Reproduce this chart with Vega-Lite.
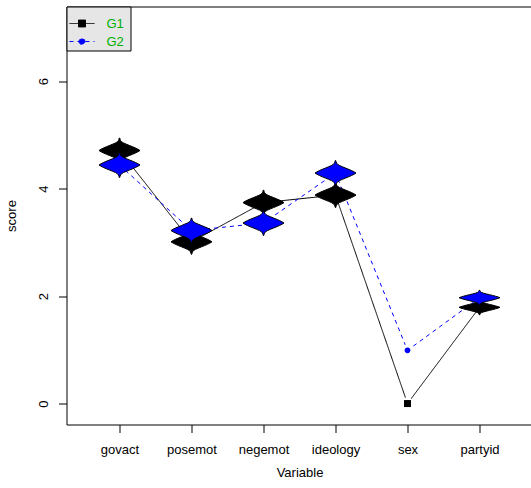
{
  "$schema": "https://vega.github.io/schema/vega-lite/v6.json",
  "width": 466,
  "height": 418,
  "autosize": {"type": "none"},
  "padding": {"left": 66.5, "top": 6.5, "right": -1.5, "bottom": 63.5},
  "background": "white",
  "config": {"font": "Liberation Sans", "view": {"stroke": "black", "strokeWidth": 1}},
  "data": {
    "values": [
      {"var": "govact", "group": "G1", "score": 4.71},
      {"var": "posemot", "group": "G1", "score": 3.01},
      {"var": "negemot", "group": "G1", "score": 3.74},
      {"var": "ideology", "group": "G1", "score": 3.88},
      {"var": "sex", "group": "G1", "score": 0},
      {"var": "partyid", "group": "G1", "score": 1.79},
      {"var": "govact", "group": "G2", "score": 4.44},
      {"var": "posemot", "group": "G2", "score": 3.22},
      {"var": "negemot", "group": "G2", "score": 3.36},
      {"var": "ideology", "group": "G2", "score": 4.29},
      {"var": "sex", "group": "G2", "score": 0.99},
      {"var": "partyid", "group": "G2", "score": 1.97}
    ]
  },
  "encoding": {
    "x": {
      "field": "var", "type": "nominal",
      "sort": ["govact", "posemot", "negemot", "ideology", "sex", "partyid"],
      "scale": {"type": "point", "range": [53, 413], "padding": 0},
      "title": "Variable",
      "axis": {
        "domain": false, "grid": false, "tickSize": 8, "tickColor": "black", "tickWidth": 1,
        "labelAngle": 0, "labelFontSize": 13, "labelColor": "black", "labelPadding": 11, "labelOverlap": false,
        "titleFontSize": 13, "titleFontWeight": "normal", "titleColor": "black",
        "titleBaseline": "alphabetic", "titleY": 52
      }
    },
    "y": {
      "field": "score", "type": "quantitative",
      "scale": {"domain": [-0.39, 7.39], "nice": false, "zero": false},
      "title": "score",
      "axis": {
        "domain": false, "grid": false, "values": [0, 2, 4, 6], "tickSize": 8, "tickColor": "black", "tickWidth": 1,
        "labelAngle": 270, "labelAlign": "center", "labelBaseline": "alphabetic", "labelPadding": 10.7,
        "labelFontSize": 13, "labelColor": "black",
        "titleFontSize": 13, "titleFontWeight": "normal", "titleColor": "black",
        "titleAngle": 270, "titleBaseline": "alphabetic", "titleAlign": "center", "titleX": -51.5, "titleY": 209
      }
    }
  },
  "layer": [
    {
      "mark": {"type": "line", "strokeWidth": 1},
      "encoding": {
        "color": {
          "field": "group", "type": "nominal",
          "scale": {"domain": ["G1", "G2"], "range": ["#000000", "#0000ff"]},
          "legend": {
            "orient": "none", "legendX": 0, "legendY": 0,
            "title": " ",
            "titleFontSize": 6, "titlePadding": 2.5,
            "padding": 2, "fillColor": "#e6e6e6", "strokeColor": "#000000",
            "symbolSize": 144, "symbolStrokeWidth": 1, "labelOffset": 25,
            "labelFontSize": 13, "labelColor": "#00b000", "rowPadding": 4,
            "encode": {
              "symbols": {
                "update": {
                  "shape": {"signal": "datum.value === 'G1' ? 'M-0.917,0H3.25M0.583,-0.583H1.75V0.583H0.583ZM8.55,0' : 'M-0.917,0H3.25M0.667,0A0.5,0.5 0 1,0 1.667,0A0.5,0.5 0 1,0 0.667,0ZM8.55,0'"},
                  "fill": {"signal": "datum.value === 'G1' ? '#000000' : '#0000ff'"},
                  "stroke": {"signal": "datum.value === 'G1' ? '#000000' : '#0000ff'"},
                  "strokeDash": {"signal": "datum.value === 'G1' ? [1,0] : [4,4]"},
                  "strokeWidth": {"value": 1},
                  "opacity": {"value": 1}
                }
              }
            }
          }
        },
        "strokeDash": {
          "field": "group", "type": "nominal",
          "scale": {"domain": ["G1", "G2"], "range": [[1, 0], [4, 4]]},
          "legend": null
        }
      }
    },
    {
      "mark": {"type": "point", "filled": true, "shape": "circle", "size": 154, "color": "white", "opacity": 1, "strokeWidth": 0}
    },
    {
      "transform": [{"filter": "datum.group === 'G1'"}],
      "mark": {"type": "point", "filled": true, "shape": "square", "size": 49, "color": "#000000", "opacity": 1}
    },
    {
      "transform": [{"filter": "datum.group === 'G2'"}],
      "mark": {"type": "point", "filled": true, "shape": "circle", "size": 32, "color": "#0000ff", "opacity": 1}
    },
    {
      "transform": [{"filter": "datum.var !== 'sex' && datum.var !== 'partyid'"}],
      "mark": {
        "type": "point", "filled": true, "size": 1681, "opacity": 1, "stroke": "black", "strokeWidth": 1,
        "shape": "M0,-0.61L0.012,-0.61L0.028,-0.549L0.05,-0.488L0.1,-0.427L0.2,-0.366L0.34,-0.305L0.49,-0.244L0.64,-0.183L0.78,-0.122L0.9,-0.061L1,0L0.9,0.061L0.78,0.122L0.64,0.183L0.49,0.244L0.34,0.305L0.2,0.366L0.1,0.427L0.05,0.488L0.028,0.549L0.012,0.61L-0.012,0.61L-0.028,0.549L-0.05,0.488L-0.1,0.427L-0.2,0.366L-0.34,0.305L-0.49,0.244L-0.64,0.183L-0.78,0.122L-0.9,0.061L-1,0L-0.9,-0.061L-0.78,-0.122L-0.64,-0.183L-0.49,-0.244L-0.34,-0.305L-0.2,-0.366L-0.1,-0.427L-0.05,-0.488L-0.028,-0.549L-0.012,-0.61Z"
      },
      "encoding": {
        "color": {"field": "group", "type": "nominal", "scale": {"domain": ["G1", "G2"], "range": ["#000000", "#0000ff"]}}
      }
    },
    {
      "transform": [{"filter": "datum.var === 'partyid'"}],
      "mark": {
        "type": "point", "filled": true, "size": 1681, "opacity": 1, "stroke": "black", "strokeWidth": 1,
        "shape": "M0,-0.366L0.012,-0.366L0.028,-0.329L0.05,-0.293L0.1,-0.256L0.2,-0.22L0.34,-0.183L0.49,-0.146L0.64,-0.11L0.78,-0.073L0.9,-0.037L1,0L0.9,0.037L0.78,0.073L0.64,0.11L0.49,0.146L0.34,0.183L0.2,0.22L0.1,0.256L0.05,0.293L0.028,0.329L0.012,0.366L-0.012,0.366L-0.028,0.329L-0.05,0.293L-0.1,0.256L-0.2,0.22L-0.34,0.183L-0.49,0.146L-0.64,0.11L-0.78,0.073L-0.9,0.037L-1,0L-0.9,-0.037L-0.78,-0.073L-0.64,-0.11L-0.49,-0.146L-0.34,-0.183L-0.2,-0.22L-0.1,-0.256L-0.05,-0.293L-0.028,-0.329L-0.012,-0.366Z"
      },
      "encoding": {
        "color": {"field": "group", "type": "nominal", "scale": {"domain": ["G1", "G2"], "range": ["#000000", "#0000ff"]}}
      }
    }
  ]
}
